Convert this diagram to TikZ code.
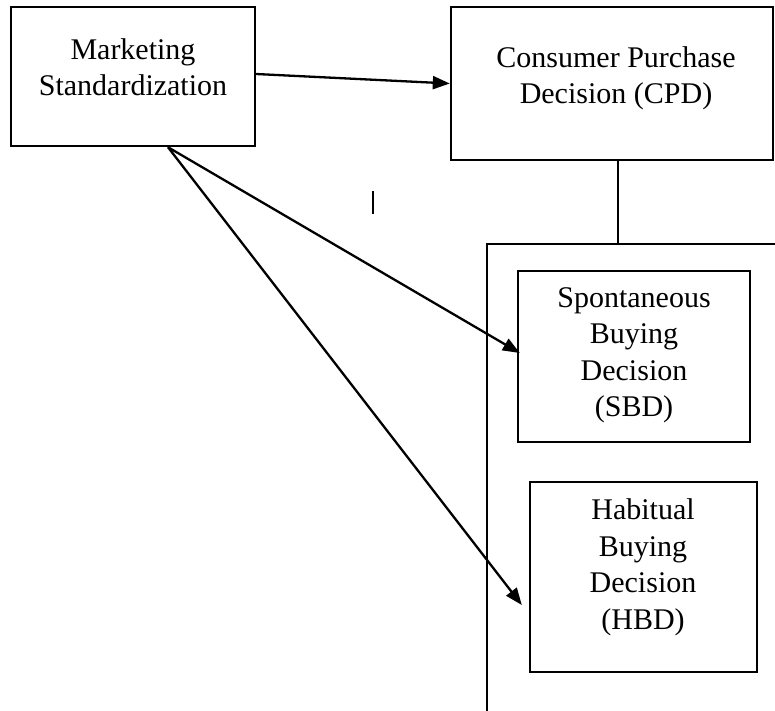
\documentclass[tikz,border=0pt]{standalone}
\usepackage{fontspec}
\setmainfont{Liberation Serif}
\usepackage{tikz}
\usetikzlibrary{arrows.meta,positioning}

\tikzset{
  box/.style={draw, line width=2.4pt, inner sep=0pt},
  boxtext/.style={anchor=north, align=center, inner sep=0pt},
  link/.style={line width=2.3pt, -{Triangle[length=17pt,width=13pt]}},
}

\begin{document}
\begin{tikzpicture}[x=1pt, y=-1pt, every node/.style={font=\fontsize{30}{36.5}\selectfont}]
  \useasboundingbox (0,0) rectangle (775,710);

  % Marketing Standardization
  \node[box, minimum width=244pt, minimum height=139pt] (mkt) at (133,76.5) {};
  \node[boxtext] (mkttext) at (133,38) {Marketing\\Standardization};

  % Consumer Purchase Decision
  \node[box, minimum width=322pt, minimum height=153pt] (cpd) at (612,83.5) {};
  \node[boxtext] (cpdtext) at (616,46) {Consumer Purchase\\Decision (CPD)};

  % outer frame round the two decisions
  \coordinate (frametop) at (618,244);
  \draw[line width=2.2pt] (487,712) -- (487,244) -- (777,244);
  \draw[line width=2.2pt] ([xshift=6pt]cpd.south) -- (frametop);

  % Spontaneous Buying Decision
  \node[box, minimum width=232pt, minimum height=171pt] (sbd) at (634,356.5) {};
  \node[boxtext] (sbdtext) at (634,287) {Spontaneous\\Buying\\Decision\\(SBD)};

  % Habitual Buying Decision
  \node[box, minimum width=227pt, minimum height=190pt] (hbd) at (643.5,577) {};
  \node[boxtext] (hbdtext) at (643,498.5) {Habitual\\Buying\\Decision\\(HBD)};

  % links
  \draw[link] ([yshift=2.5pt]mkt.east) -- (cpd.west);
  \draw[link] ([xshift=35pt]mkt.south) -- ([xshift=3pt,yshift=3.5pt]sbd.west);
  \draw[link] ([xshift=35pt]mkt.south) -- ([xshift=-7pt,yshift=-28pt]hbd.west);

  % stray mark
  \draw[line width=1.5pt] (373,191) -- (373,214);
\end{tikzpicture}
\end{document}
